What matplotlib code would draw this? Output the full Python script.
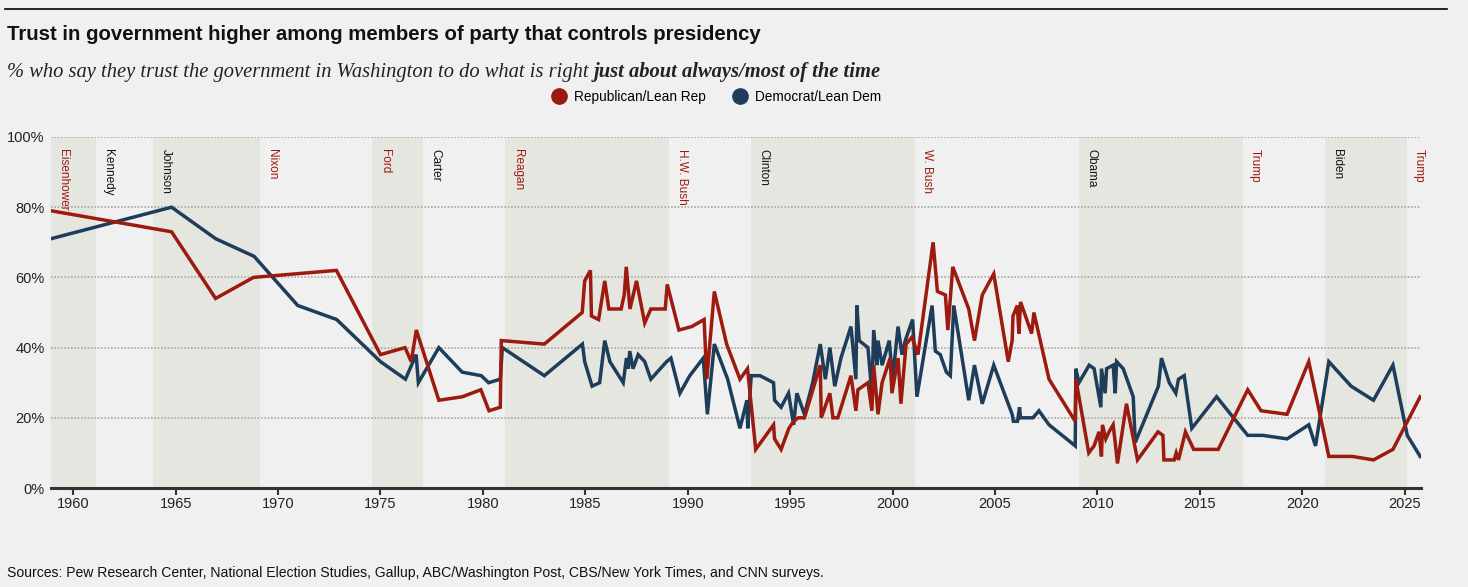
import matplotlib
matplotlib.use('Agg')
from matplotlib import pyplot as plt
from matplotlib.lines import Line2D
import matplotlib.ticker as ticker

# Republican/Lean Rep, share trusting government (%)
rep_years = [1958.9, 1964.8, 1966.95, 1968.8, 1972.85, 1975.0, 1976.2, 1976.5, 1976.75, 1977.85,
             1979.0, 1979.9, 1980.3, 1980.85, 1980.9, 1983.0, 1984.85, 1984.97, 1985.25, 1985.3,
             1985.65, 1985.95, 1986.15, 1986.75, 1986.9, 1987.0, 1987.18, 1987.5, 1987.9, 1988.2,
             1988.9, 1989.0, 1989.57, 1990.2, 1990.8, 1990.93, 1991.3, 1991.9, 1992.55, 1992.92,
             1993.32, 1994.19, 1994.24, 1994.56, 1994.94, 1995.17, 1995.4, 1995.7, 1996.47, 1996.52,
             1996.94, 1997.09, 1997.33, 1997.97, 1998.21, 1998.31, 1998.8, 1998.99, 1999.08, 1999.29,
             1999.49, 1999.88, 1999.97, 2000.27, 2000.41, 2000.66, 2000.95, 2001.24, 2001.98, 2002.19,
             2002.58, 2002.7, 2002.94, 2003.72, 2004.0, 2004.38, 2004.94, 2005.65, 2005.84, 2005.88,
             2006.09, 2006.17, 2006.25, 2006.79, 2006.9, 2007.64, 2008.92, 2008.95, 2009.58, 2009.84,
             2010.08, 2010.2, 2010.25, 2010.41, 2010.57, 2010.77, 2010.87, 2010.98, 2011.42, 2011.96,
             2012.96, 2013.2, 2013.25, 2013.75, 2013.85, 2013.96, 2014.3, 2014.7, 2015.9, 2017.34,
             2017.99, 2019.26, 2020.32, 2021.3, 2022.44, 2023.48, 2024.43, 2025.76]
rep_vals = [79, 73, 54, 60, 62, 38, 40, 36, 45, 25,
            26, 28, 22, 23, 42, 41, 50, 59, 62, 49,
            48, 59, 51, 51, 55, 63, 51, 59, 47, 51,
            51, 58, 45, 46, 48, 31, 56, 41, 31, 34,
            11, 18, 14, 11, 17, 19, 20, 20, 35, 20,
            27, 20, 20, 32, 22, 28, 30, 22, 35, 21,
            30, 37, 27, 37, 24, 41, 43, 38, 70, 56,
            55, 45, 63, 51, 42, 55, 61, 36, 42, 49,
            52, 44, 53, 44, 50, 31, 19, 31, 10, 12,
            16, 9, 18, 14, 16, 18, 13, 7, 24, 8,
            16, 15, 8, 8, 10, 8, 16, 11, 11, 28,
            22, 21, 36, 9, 9, 8, 11, 26]

# Democrat/Lean Dem
dem_years = [1958.9, 1964.8, 1966.96, 1968.83, 1970.96, 1972.86, 1975.0, 1976.22, 1976.74, 1976.85,
             1977.85, 1978.99, 1979.92, 1980.28, 1980.85, 1980.95, 1983.0, 1984.86, 1984.97, 1985.33,
             1985.7, 1985.95, 1986.2, 1986.85, 1987.01, 1987.1, 1987.17, 1987.33, 1987.58, 1987.9,
             1988.2, 1988.97, 1989.18, 1989.62, 1990.1, 1990.76, 1990.96, 1991.3, 1991.95, 1992.55,
             1992.89, 1992.93, 1993.1, 1993.53, 1994.19, 1994.24, 1994.56, 1994.92, 1995.17, 1995.33,
             1995.7, 1996.1, 1996.47, 1996.72, 1996.94, 1997.18, 1997.48, 1997.97, 1998.21, 1998.26,
             1998.37, 1998.8, 1998.99, 1999.08, 1999.24, 1999.29, 1999.49, 1999.84, 2000.0, 2000.27,
             2000.46, 2000.62, 2000.98, 2001.19, 2001.93, 2002.09, 2002.33, 2002.63, 2002.82, 2002.99,
             2003.72, 2004.0, 2004.38, 2004.94, 2005.84, 2005.9, 2006.1, 2006.2, 2006.25, 2006.85,
             2007.15, 2007.64, 2008.92, 2008.95, 2009.1, 2009.6, 2009.84, 2010.17, 2010.2, 2010.38,
             2010.45, 2010.77, 2010.87, 2010.94, 2011.26, 2011.75, 2011.85, 2012.98, 2013.13, 2013.51,
             2013.83, 2013.96, 2014.24, 2014.61, 2015.82, 2017.34, 2018.07, 2019.26, 2020.32, 2020.65,
             2021.3, 2022.39, 2023.48, 2024.43, 2025.13, 2025.76]
dem_vals = [71, 80, 71, 66, 52, 48, 36, 31, 38, 30,
            40, 33, 32, 30, 31, 40, 32, 41, 36, 29,
            30, 42, 36, 30, 37, 34, 39, 34, 38, 36,
            31, 36, 37, 27, 32, 37, 21, 41, 31, 17,
            25, 17, 32, 32, 30, 25, 23, 27, 18, 27,
            21, 30, 41, 31, 40, 29, 37, 46, 31, 52,
            42, 40, 27, 45, 35, 42, 35, 42, 31, 46,
            38, 42, 48, 26, 52, 39, 38, 33, 32, 52,
            25, 35, 24, 35, 21, 19, 19, 23, 20, 20,
            22, 18, 12, 34, 30, 35, 34, 23, 34, 27,
            34, 35, 27, 36, 34, 26, 13, 29, 37, 30,
            27, 31, 32, 17, 26, 15, 15, 14, 18, 12,
            36, 29, 25, 35, 15, 9]

presidents = ['Eisenhower', 'Kennedy', 'Johnson', 'Nixon', 'Ford', 'Carter', 'Reagan',
              'H.W. Bush', 'Clinton', 'W. Bush', 'Obama', 'Trump', 'Biden', 'Trump']
term_start = [1953.05, 1961.1, 1963.9, 1969.1, 1974.6, 1977.1, 1981.1,
              1989.1, 1993.1, 2001.1, 2009.1, 2017.1, 2021.1, 2025.1]
party = ['R', 'D', 'D', 'R', 'R', 'D', 'R', 'R', 'D', 'R', 'D', 'R', 'D', 'R']

RED = '#9c1a0e'
BLUE = '#1e3d5a'
BG = '#f0f0f0'
BAND = '#e6e6e1'
XMIN, XMAX = 1958.9, 2025.8
SANS = ['Liberation Sans', 'DejaVu Sans']
SERIF = ['Liberation Serif', 'DejaVu Serif']

fig = plt.figure(figsize=(14.68, 5.87), dpi=100, facecolor=BG)
ax = fig.add_axes([50.7 / 1468, 1 - 488 / 587, (1421 - 50.7) / 1468, 351 / 587])
ax.set_facecolor(BG)

# presidency bands and names
for i, name in enumerate(presidents):
    start = term_start[i]
    end = term_start[i + 1] if i + 1 < len(term_start) else XMAX
    if i % 2 == 0:
        ax.axvspan(max(start, XMIN), min(end, XMAX), ymin=0, ymax=1, color=BAND, lw=0, zorder=0)
    ax.text(max(start, XMIN) + 0.6, 96.5, name, rotation=270, va='top', ha='center',
            fontsize=8.5, color=RED if party[i] == 'R' else '#111111', family=SANS, zorder=3)

for yv in [20, 40, 60, 80, 100]:
    ax.axhline(yv, color='#a8a8a8', lw=1.2, ls=(0, (1, 1)), zorder=1)

ax.plot(dem_years, dem_vals, color=BLUE, lw=2.5, zorder=4, solid_joinstyle='miter')
ax.plot(rep_years, rep_vals, color=RED, lw=2.5, zorder=5, solid_joinstyle='miter')

ax.set_xlim(XMIN, XMAX)
ax.set_ylim(0, 100)
for s in ['top', 'right', 'left']:
    ax.spines[s].set_visible(False)
ax.spines['bottom'].set_color('#333333')
ax.spines['bottom'].set_linewidth(2.2)
ax.spines['bottom'].set_zorder(6)

ax.xaxis.set_major_locator(ticker.MultipleLocator(5))
ax.yaxis.set_major_locator(ticker.MultipleLocator(20))
ax.yaxis.set_major_formatter(ticker.FuncFormatter(lambda v, p: f'{int(v)}%'))
ax.tick_params(axis='x', direction='out', length=5, width=1.5, color='#333333', pad=1.5,
               labelsize=10.5, labelcolor='#222222')
ax.tick_params(axis='y', length=0, pad=4.5, labelsize=10.5, labelcolor='#222222')
for lab in ax.get_xticklabels() + ax.get_yticklabels():
    lab.set_family(SANS)

# header
fig.add_artist(Line2D([5 / 1468, 1447 / 1468], [1 - 9 / 587, 1 - 9 / 587], color='black', lw=1.2))
fig.text(7 / 1468, 1 - 35 / 587, 'Trust in government higher among members of party that controls presidency',
         fontsize=14.7, weight='bold', va='center', ha='left', color='#111111', family=SANS)
sub1 = fig.text(7 / 1468, 1 - 72 / 587, '% who say they trust the government in Washington to do what is right ',
                fontsize=14.8, style='italic', va='center', ha='left', color='#222222', family=SERIF)
renderer = fig.canvas.get_renderer()
bb = sub1.get_window_extent(renderer=renderer)
fig.text(bb.x1 / fig.bbox.width, 1 - 72 / 587, 'just about always/most of the time',
         fontsize=14.8, style='italic', weight='bold', va='center', ha='left', color='#222222',
         family=SERIF)

handles = [Line2D([], [], marker='o', ls='', color=RED, markersize=11, label='Republican/Lean Rep'),
           Line2D([], [], marker='o', ls='', color=BLUE, markersize=11, label='Democrat/Lean Dem')]
fig.legend(handles=handles, loc='center', bbox_to_anchor=(713 / 1468, 1 - 97 / 587), ncol=2,
           frameon=False, handletextpad=0.1, columnspacing=1.5,
           prop={'family': SANS, 'size': 9.8})

fig.text(7 / 1468, 1 - 573 / 587,
         'Sources: Pew Research Center, National Election Studies, Gallup, ABC/Washington Post, '
         'CBS/New York Times, and CNN surveys.',
         fontsize=10.1, va='center', ha='left', color='#111111', family=SANS)

fig.savefig('out.png', dpi=100, facecolor=BG)
